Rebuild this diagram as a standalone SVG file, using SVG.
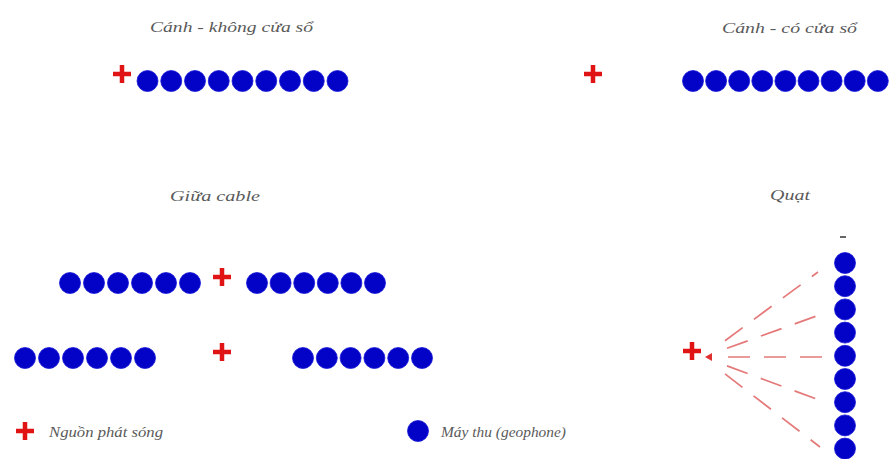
<svg xmlns="http://www.w3.org/2000/svg" xmlns:xlink="http://www.w3.org/1999/xlink" width="891" height="459" viewBox="0 0 891 459">
<style>
.lbl{font-family:"Liberation Serif","DejaVu Serif",serif;font-style:italic;font-size:15px;fill:#5a5a5a;}
.ray{stroke:#e06262;stroke-width:1.7;stroke-dasharray:22 14;fill:none;opacity:0.85;}
</style>
<defs>
<circle id="geo" r="10.5" fill="#0303c8" stroke="#1a1ad8" stroke-width="0.8"/>
<path id="src" d="M-9,0H9M0,-9V9" stroke="#e01414" stroke-width="4.5" fill="none"/>
</defs>
<rect width="891" height="459" fill="#ffffff"/>

<g id="title-canh-khong">
<text class="lbl" x="150" y="32" textLength="163" lengthAdjust="spacingAndGlyphs">Cánh - không cửa sổ</text>
</g>
<g id="title-canh-co">
<text class="lbl" x="722" y="33" textLength="135" lengthAdjust="spacingAndGlyphs">Cánh - có cửa sổ</text>
</g>
<g id="title-giua">
<text class="lbl" x="170" y="201" textLength="90" lengthAdjust="spacingAndGlyphs">Giữa cable</text>
</g>
<g id="title-quat">
<text class="lbl" x="770" y="200" textLength="40" lengthAdjust="spacingAndGlyphs">Quạt</text>
</g>

<g id="row-canh-khong">
<use xlink:href="#src" x="122" y="74"/>
<use xlink:href="#geo" x="147.5" y="81"/>
<use xlink:href="#geo" x="171.25" y="81"/>
<use xlink:href="#geo" x="195" y="81"/>
<use xlink:href="#geo" x="218.75" y="81"/>
<use xlink:href="#geo" x="242.5" y="81"/>
<use xlink:href="#geo" x="266.25" y="81"/>
<use xlink:href="#geo" x="290" y="81"/>
<use xlink:href="#geo" x="313.75" y="81"/>
<use xlink:href="#geo" x="337.5" y="81"/>
</g>

<g id="row-canh-co">
<use xlink:href="#src" x="593" y="74"/>
<use xlink:href="#geo" x="693" y="81"/>
<use xlink:href="#geo" x="716.1" y="81"/>
<use xlink:href="#geo" x="739.2" y="81"/>
<use xlink:href="#geo" x="762.3" y="81"/>
<use xlink:href="#geo" x="785.4" y="81"/>
<use xlink:href="#geo" x="808.5" y="81"/>
<use xlink:href="#geo" x="831.6" y="81"/>
<use xlink:href="#geo" x="854.7" y="81"/>
<use xlink:href="#geo" x="877.8" y="81"/>
</g>

<g id="row-giua-1">
<use xlink:href="#geo" x="70" y="283"/>
<use xlink:href="#geo" x="94" y="283"/>
<use xlink:href="#geo" x="118" y="283"/>
<use xlink:href="#geo" x="142" y="283"/>
<use xlink:href="#geo" x="166" y="283"/>
<use xlink:href="#geo" x="190" y="283"/>
<use xlink:href="#src" x="222" y="277"/>
<use xlink:href="#geo" x="257" y="283"/>
<use xlink:href="#geo" x="280.6" y="283"/>
<use xlink:href="#geo" x="304.2" y="283"/>
<use xlink:href="#geo" x="327.8" y="283"/>
<use xlink:href="#geo" x="351.4" y="283"/>
<use xlink:href="#geo" x="375" y="283"/>
</g>

<g id="row-giua-2">
<use xlink:href="#geo" x="25" y="358"/>
<use xlink:href="#geo" x="49" y="358"/>
<use xlink:href="#geo" x="73" y="358"/>
<use xlink:href="#geo" x="97" y="358"/>
<use xlink:href="#geo" x="121" y="358"/>
<use xlink:href="#geo" x="145" y="358"/>
<use xlink:href="#src" x="222" y="352"/>
<use xlink:href="#geo" x="303" y="358"/>
<use xlink:href="#geo" x="326.8" y="358"/>
<use xlink:href="#geo" x="350.6" y="358"/>
<use xlink:href="#geo" x="374.4" y="358"/>
<use xlink:href="#geo" x="398.2" y="358"/>
<use xlink:href="#geo" x="422" y="358"/>
</g>

<g id="fan-source">
<use xlink:href="#src" x="692" y="351"/>
<path d="M705,357L712,353L712,361Z" fill="#e03030"/>
</g>

<g id="fan-receivers">
<line x1="840" y1="237" x2="846" y2="237" stroke="#333" stroke-width="1.5"/>
<use xlink:href="#geo" x="845" y="263"/>
<use xlink:href="#geo" x="845" y="286.2"/>
<use xlink:href="#geo" x="845" y="309.4"/>
<use xlink:href="#geo" x="845" y="332.6"/>
<use xlink:href="#geo" x="845" y="355.8"/>
<use xlink:href="#geo" x="845" y="379"/>
<use xlink:href="#geo" x="845" y="402.2"/>
<use xlink:href="#geo" x="845" y="425.4"/>
<use xlink:href="#geo" x="845" y="448.6"/>
</g>

<g id="connectors">
<line class="ray" x1="725" y1="340.7" x2="818" y2="272"/>
<line class="ray" x1="727" y1="348.3" x2="822" y2="314"/>
<line class="ray" x1="728" y1="357" x2="822" y2="357"/>
<line class="ray" x1="727" y1="365.9" x2="822" y2="401"/>
<line class="ray" x1="725" y1="373.9" x2="820" y2="447"/>
</g>

<g id="legend-source">
<use xlink:href="#src" x="25" y="431"/>
<text class="lbl" x="49" y="437" textLength="114" lengthAdjust="spacingAndGlyphs">Nguồn phát sóng</text>
</g>
<g id="legend-receiver">
<use xlink:href="#geo" x="418" y="431"/>
<text class="lbl" x="441" y="437" textLength="125" lengthAdjust="spacingAndGlyphs">Máy thu (geophone)</text>
</g>
</svg>
